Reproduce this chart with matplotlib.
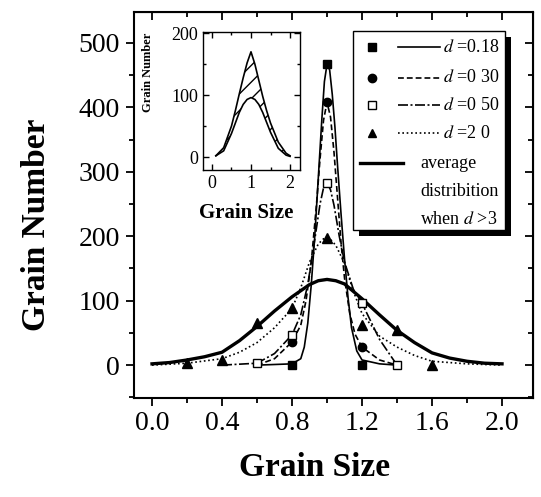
import matplotlib.pyplot as plt
from matplotlib.patches import Rectangle
from matplotlib.ticker import MultipleLocator

plt.rcParams['font.family'] = ['Liberation Serif', 'DejaVu Serif']
plt.rcParams['mathtext.fontset'] = 'stix'
plt.rcParams['hatch.linewidth'] = 1.0

# measured points (markers)
d018_x = [0.8, 1.0, 1.2]
d018_y = [0, 467, 0]
d030_x = [0.8, 1.0, 1.2]
d030_y = [36, 408, 28]
d050_x = [0.6, 0.8, 1.0, 1.2, 1.4]
d050_y = [3, 47, 283, 96, 0]
d20_x = [0.2, 0.4, 0.6, 0.8, 1.0, 1.2, 1.4, 1.6]
d20_y = [3, 8, 65, 88, 197, 62, 54, 0]

# fitted curves
fit018_x = [0.6, 0.8, 0.85, 0.87, 0.89, 0.91, 0.93, 0.95, 0.97, 0.985, 1.0,
            1.015, 1.03, 1.045, 1.06, 1.08, 1.1, 1.12, 1.14, 1.17, 1.2, 1.3, 1.4]
fit018_y = [0, 2, 10, 28, 65, 125, 200, 290, 380, 440, 467,
            458, 420, 370, 310, 235, 165, 105, 58, 22, 8, 2, 0]
fit030_x = [0.6, 0.7, 0.8, 0.85, 0.88, 0.91, 0.94, 0.96, 0.98, 1.0, 1.02,
            1.04, 1.06, 1.08, 1.1, 1.13, 1.16, 1.2, 1.3, 1.4]
fit030_y = [0, 10, 36, 62, 100, 160, 250, 320, 380, 408, 385,
            330, 260, 190, 135, 80, 48, 28, 8, 0]
fit050_x = [0.4, 0.6, 0.7, 0.8, 0.85, 0.89, 0.93, 0.96, 0.98, 1.0, 1.02,
            1.04, 1.07, 1.1, 1.15, 1.2, 1.3, 1.4]
fit050_y = [0, 3, 18, 47, 78, 125, 195, 250, 275, 283, 272,
            248, 200, 160, 118, 96, 40, 0]
fit20_x = [0.0, 0.2, 0.4, 0.5, 0.6, 0.7, 0.8, 0.85, 0.9, 0.95, 0.98, 1.0, 1.02,
           1.05, 1.1, 1.15, 1.2, 1.3, 1.4, 1.5, 1.6, 1.8, 2.0]
fit20_y = [0, 3, 10, 20, 35, 58, 88, 120, 160, 188, 196, 197, 195,
           186, 158, 115, 80, 45, 28, 15, 6, 2, 0]
avg_x = [0.0, 0.1, 0.2, 0.3, 0.4, 0.5, 0.6, 0.7, 0.8, 0.9, 0.95, 1.0, 1.05, 1.1,
         1.2, 1.3, 1.4, 1.5, 1.6, 1.7, 1.8, 1.9, 2.0]
avg_y = [2, 4, 8, 13, 20, 38, 60, 84, 106, 125, 131, 133, 131, 126,
         103, 78, 54, 35, 19, 11, 6, 3, 2]

# inset
in_x = [0.1, 0.3, 0.5, 0.6, 0.7, 0.8, 0.9, 1.0, 1.1, 1.2, 1.3, 1.4, 1.5, 1.7, 1.9, 2.0]
in_outer = [2, 15, 50, 75, 102, 128, 152, 170, 150, 124, 98, 75, 55, 24, 6, 2]
in_inner = [2, 10, 38, 55, 72, 85, 93, 96, 93, 85, 72, 56, 40, 14, 3, 1]

xticks = [0.0, 0.4, 0.8, 1.2, 1.6, 2.0]
yticks = [0, 100, 200, 300, 400, 500]

LW = 1.2
DASHED = (0, (3.5, 1.8))
DASHDOT = (0, (6, 1.5, 1.2, 1.5))
DOTTED = (0, (1, 1.6))

fig = plt.figure(figsize=(5.41, 4.97), dpi=100)
ax = fig.add_axes([134 / 541, 99 / 497, 399 / 541, 386 / 497])

ax.plot(avg_x, avg_y, color='black', lw=2.4, zorder=3)
ax.plot(fit018_x, fit018_y, color='black', lw=LW, ls='-')
ax.plot(fit030_x, fit030_y, color='black', lw=LW, ls=DASHED)
ax.plot(fit050_x, fit050_y, color='black', lw=LW, ls=DASHDOT)
ax.plot(fit20_x, fit20_y, color='black', lw=LW, ls=DOTTED)
ax.plot(d018_x, d018_y, 's', color='black', ms=6, zorder=4)
ax.plot(d030_x, d030_y, 'o', color='black', ms=6, zorder=4)
ax.plot(d050_x, d050_y, 's', mfc='white', mec='black', mew=1.0, ms=6, zorder=4)
ax.plot(d20_x, d20_y, '^', color='black', ms=7, zorder=4)

ax.set_xlim(-0.103, 2.177)
ax.set_ylim(-51, 548)
ax.set_xticks(xticks)
ax.set_yticks(yticks)
ax.xaxis.set_minor_locator(MultipleLocator(0.2))
ax.yaxis.set_minor_locator(MultipleLocator(50))
ax.tick_params(which='both', direction='out', labelsize=20, width=1.3)
ax.tick_params(which='major', length=6)
ax.tick_params(which='minor', length=3.5)
ax.tick_params(axis='x', pad=3)
ax.tick_params(axis='y', pad=4)
for s in ax.spines.values():
    s.set_linewidth(1.5)

# top / right ticks point inward
top = ax.secondary_xaxis('top')
top.set_xticks(xticks)
top.xaxis.set_minor_locator(MultipleLocator(0.2))
top.tick_params(which='both', direction='in', labeltop=False, width=1.3)
top.tick_params(which='major', length=6)
top.tick_params(which='minor', length=3.5)
right = ax.secondary_yaxis('right')
right.set_yticks(yticks)
right.yaxis.set_minor_locator(MultipleLocator(50))
right.tick_params(which='both', direction='in', labelright=False, width=1.3)
right.tick_params(which='major', length=6)
right.tick_params(which='minor', length=3.5)

ax.set_xlabel('Grain Size', fontsize=24, fontweight='bold')
ax.set_ylabel('Grain Number', fontsize=24, fontweight='bold')
ax.xaxis.set_label_coords(0.4536, -0.14)
ax.yaxis.set_label_coords(-0.205, 0.448)


# legend drawn by hand (pixel layout of the original figure)
def to_ax(px, py):
    return (px - 134) / 399, (398 - py) / 386


x0, y0 = to_ax(353, 230)
x1, y1 = to_ax(505, 31)
sx0, sy0 = to_ax(359, 236)
sx1, sy1 = to_ax(511, 37)
ax.add_patch(Rectangle((sx0, sy0), sx1 - sx0, sy1 - sy0, transform=ax.transAxes,
                       facecolor='black', edgecolor='none', zorder=5))
ax.add_patch(Rectangle((x0, y0), x1 - x0, y1 - y0, transform=ax.transAxes,
                       facecolor='white', edgecolor='black', lw=1.0, zorder=6))

entries = [
    ('s', 'black', '-', r'$d$ =0.18'),
    ('o', 'black', DASHED, r'$d$ =0 30'),
    ('s', 'white', DASHDOT, r'$d$ =0 50'),
    ('^', 'black', DOTTED, r'$d$ =2 0'),
]
rows = [47, 78, 105, 133]
for (mk, fc, ls, label), py in zip(entries, rows):
    mx, my = to_ax(372, py)
    ax.plot([mx], [my], mk, mfc=fc, mec='black', mew=1.0, ms=6,
            transform=ax.transAxes, zorder=7, clip_on=False)
    lx0, _ = to_ax(398, py)
    lx1, _ = to_ax(440, py)
    ax.plot([lx0, lx1], [my, my], color='black', lw=LW, ls=ls,
            transform=ax.transAxes, zorder=7)
    tx, _ = to_ax(443, py)
    ax.text(tx, my, label, transform=ax.transAxes, fontsize=13,
            va='center', ha='left', zorder=7)

ax_l0, ay = to_ax(360, 163)
ax_l1, _ = to_ax(403, 163)
ax.plot([ax_l0, ax_l1], [ay, ay], color='black', lw=2.4,
        transform=ax.transAxes, zorder=7)
for text, py in [('average', 163), ('distribition', 192), (r'when $d$ >3', 220)]:
    tx, ty = to_ax(420, py)
    ax.text(tx, ty, text, transform=ax.transAxes, fontsize=13,
            va='center', ha='left', zorder=7)

# inset
ax_in = fig.add_axes([203 / 541, 327 / 497, 97 / 541, 138 / 497])
ax_in.fill_between(in_x, in_inner, in_outer, facecolor='white', edgecolor='black',
                   hatch='//', lw=0)
ax_in.plot(in_x, in_outer, color='black', lw=1.2)
ax_in.plot(in_x, in_inner, color='black', lw=1.2)
ax_in.set_xlim(-0.23, 2.256)
ax_in.set_ylim(-21, 202)
ax_in.set_xticks([0, 1, 2])
ax_in.set_yticks([0, 100, 200])
ax_in.xaxis.set_minor_locator(MultipleLocator(0.5))
ax_in.yaxis.set_minor_locator(MultipleLocator(50))
ax_in.tick_params(which='both', direction='in', top=True, right=True,
                  labelsize=13, width=1.0)
ax_in.tick_params(which='major', length=4)
ax_in.tick_params(which='minor', length=2)
for s in ax_in.spines.values():
    s.set_linewidth(1.0)
ax_in.set_xlabel('Grain Size', fontsize=15, fontweight='bold')
ax_in.set_ylabel('Grain Number', fontsize=9, fontweight='bold')
ax_in.xaxis.set_label_coords(0.448, -0.24)
ax_in.yaxis.set_label_coords(-0.505, 0.71)

fig.savefig('out.png', dpi=100)
